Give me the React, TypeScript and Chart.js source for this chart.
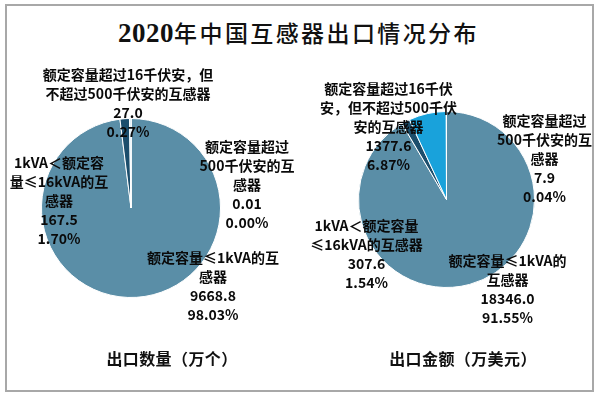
import { useEffect, useRef } from "react";
import { Chart, registerables } from "chart.js";

Chart.register(...registerables);

// ---- data ----
const titleYear = "2020";
const titleText = "年中国互感器出口情况分布";
const categories = [
  "额定容量≤1kVA的互感器",
  "1kVA＜额定容量≤16kVA的互感器",
  "额定容量超过16千伏安，但不超过500千伏安的互感器",
  "额定容量超过500千伏安的互感器",
];
const quantityValues = [9668.8, 167.5, 27.0, 0.01];
const quantityShares = [98.03, 1.7, 0.27, 0.0];
const amountValues = [18346.0, 307.6, 1377.6, 7.9];
const amountShares = [91.55, 1.54, 6.87, 0.04];
const quantityCaption = "出口数量（万个）";
const amountCaption = "出口金额（万美元）";

// wrapped category names as they appear in each pie's labels
const quantityLabelLines = [
  ["额定容量≤1kVA的互", "感器"],
  ["1kVA＜额定容", "量≤16kVA的互", "感器"],
  ["额定容量超过16千伏安，但", "不超过500千伏安的互感器"],
  ["额定容量超过", "500千伏安的互", "感器"],
];
const amountLabelLines = [
  ["额定容量≤1kVA的", "互感器"],
  ["1kVA＜额定容量", "≤16kVA的互感器"],
  ["额定容量超过16千伏", "安，但不超过500千伏", "安的互感器"],
  ["额定容量超过", "500千伏安的互", "感器"],
];

// ---- styles / layout ----
const sliceColors = ["#5a8ea7", "#1c4e6c", "#19a2db", "#86d2ee"];
const quantityLabelOffsets = [
  [82, 78],
  [-72, -7],
  [-3, -105],
  [116, -23],
];
const amountLabelOffsets = [
  [61, 90],
  [-80, 55],
  [-58, -73],
  [98, -41],
];

const fmtValue = (v: number) => (v < 0.1 ? v.toFixed(2) : v.toFixed(1));

function makeLabelPlugin(lines: string[][], shares: number[], offsets: number[][]) {
  return {
    id: "sliceLabels",
    afterDatasetsDraw(chart: any) {
      const meta = chart.getDatasetMeta(0);
      const data = chart.data.datasets[0].data as number[];
      const ctx = chart.ctx as CanvasRenderingContext2D;
      ctx.save();
      ctx.font = "bold 14px 'Noto Sans CJK SC', 'Noto Sans', sans-serif";
      ctx.fillStyle = "#0a0a0a";
      ctx.textAlign = "center";
      ctx.textBaseline = "middle";
      const lh = 19;
      meta.data.forEach((arc: any, i: number) => {
        const { x, y } = arc.getProps(["x", "y"], true);
        const all = [...lines[i], fmtValue(data[i]), shares[i].toFixed(2) + "%"];
        const cx = x + offsets[i][0];
        const startY = y + offsets[i][1] - ((all.length - 1) * lh) / 2;
        all.forEach((t, j) => ctx.fillText(t, cx, startY + j * lh));
      });
      ctx.restore();
    },
  };
}

function PieCanvas(props: {
  values: number[];
  shares: number[];
  lines: string[][];
  offsets: number[][];
  padding: { left: number; top: number; right: number; bottom: number };
  left: number;
}) {
  const ref = useRef<HTMLCanvasElement | null>(null);
  useEffect(() => {
    if (!ref.current) return;
    const chart = new Chart(ref.current, {
      type: "pie",
      data: {
        labels: categories,
        datasets: [
          {
            data: props.values,
            backgroundColor: sliceColors,
            borderColor: "#ffffff",
            borderWidth: 1,
          },
        ],
      },
      options: {
        responsive: false,
        animation: false,
        layout: { padding: props.padding },
        plugins: {
          legend: { display: false },
          tooltip: { enabled: false },
          title: { display: false },
        },
      },
      plugins: [makeLabelPlugin(props.lines, props.shares, props.offsets)],
    });
    return () => chart.destroy();
  }, []);
  return (
    <canvas
      ref={ref}
      width={300}
      height={395}
      style={{ position: "absolute", left: props.left, top: 0, width: 300, height: 395 }}
    />
  );
}

export default function App() {
  const captionStyle = (cx: number, cy: number): any => ({
    position: "absolute",
    left: cx - 120,
    top: cy - 12,
    width: 240,
    height: 24,
    lineHeight: "24px",
    textAlign: "center",
    fontSize: 16,
    fontWeight: "bold",
    letterSpacing: "0.4px",
    fontFamily: "'Noto Sans CJK SC', sans-serif",
    color: "#111",
  });
  return (
    <div
      style={{
        position: "fixed",
        left: 0,
        top: 0,
        width: 600,
        height: 395,
        background: "#ffffff",
        overflow: "hidden",
      }}
    >
      <div
        style={{
          position: "absolute",
          left: 5,
          top: 4,
          width: 589,
          height: 388,
          border: "2px solid #a8a8a8",
          boxSizing: "border-box",
        }}
      />
      <div
        style={{
          position: "absolute",
          left: 0,
          top: 16,
          width: 597,
          height: 32,
          lineHeight: "32px",
          textAlign: "center",
          color: "#111",
          whiteSpace: "nowrap",
        }}
      >
        <span
          style={{
            fontSize: 27,
            fontWeight: "bold",
            fontFamily: "'Liberation Serif', serif",
            letterSpacing: "0.5px",
          }}
        >
          {titleYear}
        </span>
        <span
          style={{
            fontSize: 23,
            fontWeight: 500,
            fontFamily: "'Noto Sans CJK SC', sans-serif",
            letterSpacing: "2.4px",
          }}
        >
          {titleText}
        </span>
      </div>
      <PieCanvas
        values={quantityValues}
        shares={quantityShares}
        lines={quantityLabelLines}
        offsets={quantityLabelOffsets}
        padding={{ left: 41, top: 118, right: 79, bottom: 97 }}
        left={0}
      />
      <PieCanvas
        values={amountValues}
        shares={amountShares}
        lines={amountLabelLines}
        offsets={amountLabelOffsets}
        padding={{ left: 58, top: 111, right: 65, bottom: 107 }}
        left={300}
      />
      <div style={captionStyle(172, 358)}>{quantityCaption}</div>
      <div style={captionStyle(463, 358)}>{amountCaption}</div>
    </div>
  );
}
